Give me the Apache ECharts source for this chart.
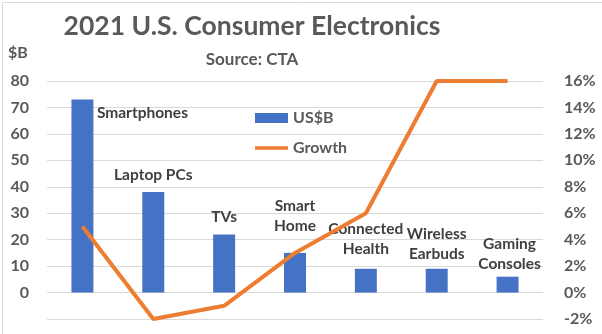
<!DOCTYPE html>
<html>
<head>
<meta charset="utf-8">
<script src="https://cdn.jsdelivr.net/npm/echarts@6/dist/echarts.min.js"></script>
<style>
  html, body { margin: 0; padding: 0; background: #fff; }
  #chart { width: 602px; height: 334px; }
</style>
</head>
<body>
<div id="chart"></div>
<script>
// 2021 U.S. consumer electronics revenue (US$B) and growth (%), source: CTA
const categories = ['Smartphones', 'Laptop PCs', 'TVs', 'Smart\nHome', 'Connected\nHealth', 'Wireless\nEarbuds', 'Gaming\nConsoles'];
const revenue = [73, 38, 22, 15, 9, 9, 6];
const growth = [5, -2, -1, 3, 6, 16, 16];
const leftTicks = { min: -10, max: 80, step: 10 };
const rightTicks = { min: -2, max: 16, step: 2 };

// per-bar placement of the category name drawn above each bar
const labelOffsets = [[60, 23], [0, -7], [0, -7], [0, -17], [0, -10], [0, -5], [2, -3]];

const FONT = 'Lato, "Open Sans", sans-serif';
const chart = echarts.init(document.getElementById('chart'));

chart.setOption({
  animation: false,
  backgroundColor: '#fff',
  graphic: [
    { type: 'rect', left: 0, top: 0, shape: { width: 601, height: 333 },
      style: { fill: 'none', stroke: '#d9d9d9', lineWidth: 1 } },
    { type: 'text', x: 252, y: 26, style: { text: '2021 U.S. Consumer Electronics', fill: '#595959',
      font: 'bold 26.5px ' + FONT, textAlign: 'center', textVerticalAlign: 'middle' } },
    { type: 'text', x: 252, y: 60, style: { text: 'Source: CTA', fill: '#595959',
      font: 'bold 17px ' + FONT, textAlign: 'center', textVerticalAlign: 'middle' } },
    { type: 'text', x: 8, y: 53, style: { text: '$B', fill: '#595959',
      font: 'bold 16px ' + FONT, textAlign: 'left', textVerticalAlign: 'middle' } }
  ],
  legend: {
    orient: 'vertical',
    left: 255,
    top: 108,
    padding: 0,
    itemWidth: 33,
    itemHeight: 10,
    itemGap: 10,
    itemTextGap: 3,
    symbolKeepAspect: true,
    textStyle: { color: '#595959', fontFamily: FONT, fontSize: 16, fontWeight: 'bold', lineHeight: 20 },
    data: [
      { name: 'US$B', icon: 'rect' },
      { name: 'Growth', icon: 'path://M0,0H33V3.5H0Z' }
    ]
  },
  grid: { left: 47, right: 59, top: 81, bottom: 15, containLabel: false },
  xAxis: {
    type: 'category',
    data: categories,
    axisLine: { show: false },
    axisTick: { show: false },
    axisLabel: { show: false }
  },
  yAxis: [
    {
      type: 'value',
      min: leftTicks.min, max: leftTicks.max, interval: leftTicks.step,
      axisLine: { show: false }, axisTick: { show: false },
      splitLine: { lineStyle: { color: '#d9d9d9', width: 1 } },
      axisLabel: {
        margin: 18, color: '#595959', fontFamily: FONT, fontSize: 16, fontWeight: 'bold',
        formatter: v => (v < 0 ? '' : String(v))
      }
    },
    {
      type: 'value',
      min: rightTicks.min, max: rightTicks.max, interval: rightTicks.step,
      axisLine: { show: false }, axisTick: { show: false },
      splitLine: { show: false },
      axisLabel: {
        margin: 21, color: '#595959', fontFamily: FONT, fontSize: 16, fontWeight: 'bold',
        formatter: '{value}%'
      }
    }
  ],
  series: [
    {
      name: 'US$B',
      type: 'bar',
      yAxisIndex: 0,
      barWidth: '31%',
      itemStyle: { color: '#4472C4' },
      data: revenue.map((v, i) => ({
        value: v,
        label: {
          show: true,
          position: 'top',
          distance: 0,
          offset: labelOffsets[i],
          formatter: '{b}',
          color: '#404040',
          fontFamily: FONT,
          fontSize: 15.5,
          fontWeight: 'bold',
          lineHeight: 20,
          align: 'center'
        }
      }))
    },
    {
      name: 'Growth',
      type: 'line',
      yAxisIndex: 1,
      symbol: 'none',
      lineStyle: { color: '#ED7D31', width: 4 },
      itemStyle: { color: '#ED7D31' },
      z: 3,
      data: growth
    }
  ]
});
</script>
</body>
</html>
